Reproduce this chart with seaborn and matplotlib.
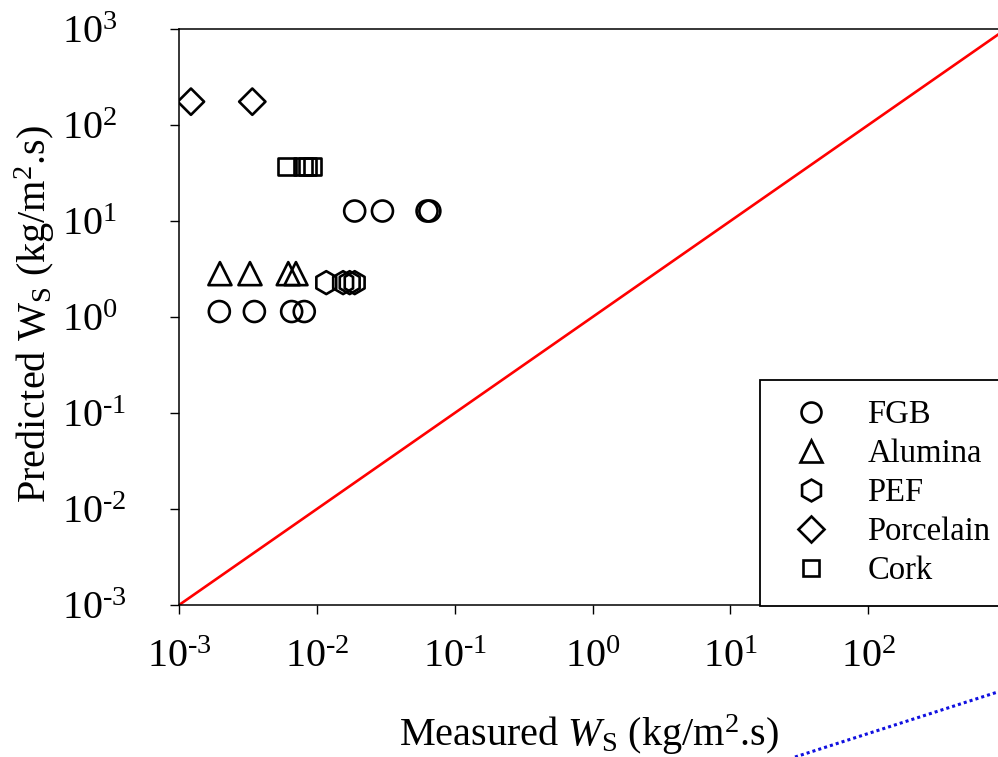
import numpy as np
import pandas as pd
import matplotlib
matplotlib.use("Agg")
import matplotlib.pyplot as plt
import seaborn as sns
from matplotlib.lines import Line2D
from matplotlib.ticker import FixedLocator, FuncFormatter

# ---- data ----
fgb_x = [1.96e-3, 3.52e-3, 6.56e-3, 8.1e-3, 0.0188, 0.0299, 0.063, 0.066]
fgb_y = [1.14, 1.14, 1.14, 1.14, 12.7, 12.7, 12.7, 12.7]
alumina_x = [1.98e-3, 3.27e-3, 6.2e-3, 7.05e-3]
alumina_y = [2.83, 2.83, 2.83, 2.83]
pef_x = [0.0117, 0.0155, 0.0173, 0.0188]
pef_y = [2.28, 2.28, 2.28, 2.28]
porcelain_x = [1.22e-3, 3.4e-3]
porcelain_y = [175, 175]
cork_x = [6.07e-3, 7.93e-3, 8.6e-3, 9.35e-3]
cork_y = [37, 37, 37, 37]
materials = ["FGB", "Alumina", "PEF", "Porcelain", "Cork"]
parity_x = [1e-3, 1e3]
parity_y = [1e-3, 1e3]
x_ticks = [1e-3, 1e-2, 1e-1, 1e0, 1e1, 1e2]
y_ticks = [1e-3, 1e-2, 1e-1, 1e0, 1e1, 1e2, 1e3]

sns.set_style("ticks")
plt.rcParams["font.family"] = ["Liberation Serif", "DejaVu Serif"]
plt.rcParams["mathtext.fontset"] = "custom"
plt.rcParams["mathtext.rm"] = "Liberation Serif"
plt.rcParams["mathtext.it"] = "Liberation Serif:italic"
plt.rcParams["mathtext.default"] = "regular"
plt.rcParams["text.color"] = "black"
plt.rcParams["axes.labelcolor"] = "black"

frames = []
for name, xs, ys in [("FGB", fgb_x, fgb_y), ("Alumina", alumina_x, alumina_y),
                     ("PEF", pef_x, pef_y), ("Porcelain", porcelain_x, porcelain_y),
                     ("Cork", cork_x, cork_y)]:
    frames.append(pd.DataFrame({"x": xs, "y": ys, "material": name}))
df = pd.concat(frames, ignore_index=True)

marker_map = {"FGB": "o", "Alumina": "^", "PEF": "h", "Porcelain": "D", "Cork": "s"}
size_pt = {"FGB": 15.1, "Alumina": 16.6, "PEF": 16.5, "Porcelain": 13.4, "Cork": 12.4}
size_map = {k: v ** 2 for k, v in size_pt.items()}

fig = plt.figure(figsize=(9.98, 7.57), dpi=100)
ax = fig.add_axes([0.1794, 0.2008, 0.8287, 0.7609])

sns.lineplot(x=parity_x, y=parity_y, ax=ax, color="#ff0000", lw=1.9, zorder=1)
sns.scatterplot(data=df, x="x", y="y", style="material", size="material",
                markers=marker_map, sizes=size_map, style_order=materials,
                size_order=materials, facecolor="none", edgecolor="black",
                linewidth=1.9, legend=False, ax=ax, zorder=3)

ax.set_xscale("log")
ax.set_yscale("log")
ax.set_xlim(1e-3, 1e3)
ax.set_ylim(1e-3, 1e3)
ax.minorticks_off()
ax.xaxis.set_major_locator(FixedLocator(x_ticks))
ax.yaxis.set_major_locator(FixedLocator(y_ticks))


def dec_fmt(v, pos):
    e = int(round(np.log10(v)))
    if e < 0:
        return r"$10^{\text{-}%d}$" % (-e)
    return r"$10^{%d}$" % e


ax.xaxis.set_major_formatter(FuncFormatter(dec_fmt))
ax.yaxis.set_major_formatter(FuncFormatter(dec_fmt))

for s in ax.spines.values():
    s.set_color("black")
    s.set_linewidth(1.1)

ax.tick_params(axis="both", direction="out", length=6.5, width=1.0,
               labelsize=29, colors="black", top=False, right=False)
ax.tick_params(axis="x", pad=18)
ax.tick_params(axis="y", pad=77.7)
for lab in ax.get_yticklabels():
    lab.set_horizontalalignment("left")

ax.set_xlabel(r"Measured $\mathit{W}_{\mathrm{S}}$ (kg/m$^{2}$.s)", fontsize=29)
ax.set_ylabel(r"Predicted W$_{\mathrm{S}}$ (kg/m$^{2}$.s)", fontsize=29)
ax.xaxis.set_label_coords(0.4955, -0.187)
ax.yaxis.set_label_coords(-0.147, 0.505)

handles = [Line2D([], [], marker=marker_map[m], ls="none", mfc="none", mec="black",
                  mew=1.9, ms=size_pt[m] * 0.95) for m in materials]
leg = ax.legend(handles, materials, loc="upper left", bbox_to_anchor=(0.7025, 0.3906),
                borderaxespad=0, frameon=True, fancybox=False, edgecolor="black",
                framealpha=1, fontsize=23.5, borderpad=0.6, handlelength=1.94,
                handletextpad=0.75, labelspacing=0.26)
leg.get_frame().set_linewidth(1.3)

fig.add_artist(Line2D([0.7966, 1.0], [0.0, 0.0860], transform=fig.transFigure,
                      color="#1010e0", lw=2.2, ls=(0, (1, 1))))

fig.savefig("out.png", dpi=100)
